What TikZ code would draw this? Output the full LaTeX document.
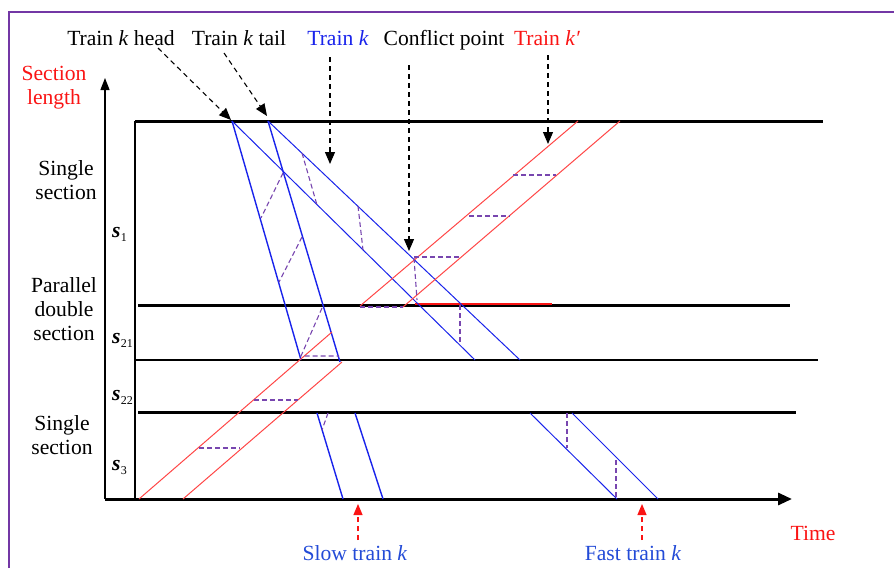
\documentclass[tikz,border=0pt]{standalone}
\usepackage{fontspec}
\setmainfont{Liberation Serif}
\usetikzlibrary{arrows.meta}
\definecolor{tblue}{RGB}{25,35,235}
\definecolor{lblue}{RGB}{35,75,215}
\definecolor{tred}{RGB}{250,20,20}
\definecolor{kred}{RGB}{255,70,70}
\definecolor{dpurple}{RGB}{120,70,175}
\definecolor{framepurple}{RGB}{115,55,165}
\newcommand{\seclbl}[1]{{\bfseries\itshape s}\kern0.3pt\raisebox{-4pt}{\fontsize{12}{12}\selectfont #1}}
\tikzset{
  every node/.style={inner sep=0pt, font=\fontsize{21.6}{24}\selectfont},
  lbl/.style={anchor=base, align=center},
  rail/.style={line width=3pt, black},
  railthin/.style={line width=1.4pt, black},
  slowline/.style={tblue, line width=1.4pt},
  fastline/.style={tblue, line width=1pt},
  kline/.style={kred, line width=1pt},
  hw/.style={dpurple, dash pattern=on 5pt off 3pt, line width=1.1pt},
  callout/.style={black, line width=1.1pt, dash pattern=on 5pt off 4pt, -{Triangle[length=12pt,width=10pt]}},
  redcallout/.style={tred, line width=1.1pt, dash pattern=on 5pt off 4pt, -{Triangle[length=11pt,width=9pt]}}
}
\begin{document}
\begin{tikzpicture}[x=1pt,y=-1pt]
\useasboundingbox (0,0) rectangle (894,568);
% frame
\draw[framepurple, line width=2pt] (9,568) -- (9,12) -- (894,12);
% axes
\coordinate (o) at (105,499);
\coordinate (ytop) at (105,78);
\coordinate (xend) at (792,499);
\draw[line width=1.3pt, -{Triangle[length=12pt,width=9pt]}] (o) -- (ytop);
\draw[line width=3pt, -{Triangle[length=14pt,width=12pt]}] (o) -- (xend);
\draw[line width=1.3pt] (135,121) -- (135,499);
% rails
\draw[rail] (135,121) -- (823,121);
\draw[rail] (138,305) -- (790,305);
\draw[railthin] (135,360) -- (818,360);
\draw[rail] (138,412) -- (796,412);
\draw[tred, line width=1.2pt] (415,304) -- (552,304);
% train k slow
\coordinate (hA) at (232,121);
\coordinate (tA) at (268,121);
\draw[slowline] (hA) -- (301,360);
\draw[slowline] (tA) -- (340,362);
\draw[slowline] (317,413) -- (343,499);
\draw[slowline] (355,413) -- (383,499);
% train k fast
\draw[fastline] (hA) -- (475,360);
\draw[fastline] (tA) -- (520,360);
\draw[fastline] (530,413) -- (617,499);
\draw[fastline] (572,413) -- (658,499);
% train k'
\draw[kline] (139,499) -- (332,332);
\draw[kline] (183,499) -- (342,362);
\draw[kline] (360,306) -- (578,121);
\draw[kline] (403,307) -- (620,121);
% headways
\draw[hw] (302,153) -- (317,205);
\draw[hw] (283,173) -- (261,218);
\draw[hw] (302,237) -- (279,282);
\draw[hw] (358,206) -- (363,250);
\draw[hw] (322,308) -- (301,356) -- (339,356);
\draw[hw] (414,258) -- (417,300);
\draw[hw] (414,257) -- (461,257);
\draw[hw] (360,307) -- (403,307);
\draw[hw] (460,305) -- (460,345);
\draw[hw] (513,175) -- (556,175);
\draw[hw] (469,216) -- (510,216);
\draw[hw] (254,400) -- (298,400);
\draw[hw] (199,448) -- (240,448);
\draw[hw] (328,413) -- (322,430);
\draw[hw] (567,413) -- (567,448);
\draw[hw] (616,460) -- (616,499);
% top labels and callouts
\node[lbl] (headlbl) at (121,45) {Train \textit{k} head};
\node[lbl] (taillbl) at (239,45) {Train \textit{k} tail};
\node[lbl, text=tblue] (klbl) at (338,45) {Train \textit{k}};
\node[lbl] (cplbl) at (444,45) {Conflict point};
\node[lbl, text=tred] (kplbl) at (547,45) {Train \textit{k′}};
\coordinate (headfrom) at (158,48);
\coordinate (headtip) at (231,120);
\coordinate (tailfrom) at (224,53);
\coordinate (tailtip) at (267,116);
\coordinate (kfrom) at (330,57);
\coordinate (ktip) at (330,164);
\coordinate (cpfrom) at (409,65);
\coordinate (cptip) at (409,251);
\coordinate (kpfrom) at (548,55);
\coordinate (kptip) at (548,144);
\draw[callout] (headfrom) -- (headtip);
\draw[callout] (tailfrom) -- (tailtip);
\draw[callout] (kfrom) -- (ktip);
\draw[callout] (cpfrom) -- (cptip);
\draw[callout] (kpfrom) -- (kptip);
% left labels
\node[lbl, text=tred] (seclen) at (54,104) {Section\\length};
\node[lbl] (single1) at (66,199) {Single\\section};
\node[lbl] (parallel) at (64,340) {Parallel\\double\\section};
\node[lbl] (single2) at (62,454) {Single\\section};
\node[anchor=base west] (s1) at (112,237) {\seclbl{1}};
\node[anchor=base west] (s21) at (112,343) {\seclbl{21}};
\node[anchor=base west] (s22) at (112,400) {\seclbl{22}};
\node[anchor=base west] (s3) at (112,470) {\seclbl{3}};
% bottom labels
\node[lbl, text=lblue] (slowlbl) at (355,560) {Slow train \textit{k}};
\node[lbl, text=lblue] (fastlbl) at (633,560) {Fast train \textit{k}};
\node[lbl, text=tred] (timelbl) at (813,540) {Time};
\coordinate (slowfrom) at (358,540);
\coordinate (slowtip) at (358,504);
\coordinate (fastfrom) at (642,540);
\coordinate (fasttip) at (642,504);
\draw[redcallout] (slowfrom) -- (slowtip);
\draw[redcallout] (fastfrom) -- (fasttip);
\end{tikzpicture}
\end{document}
